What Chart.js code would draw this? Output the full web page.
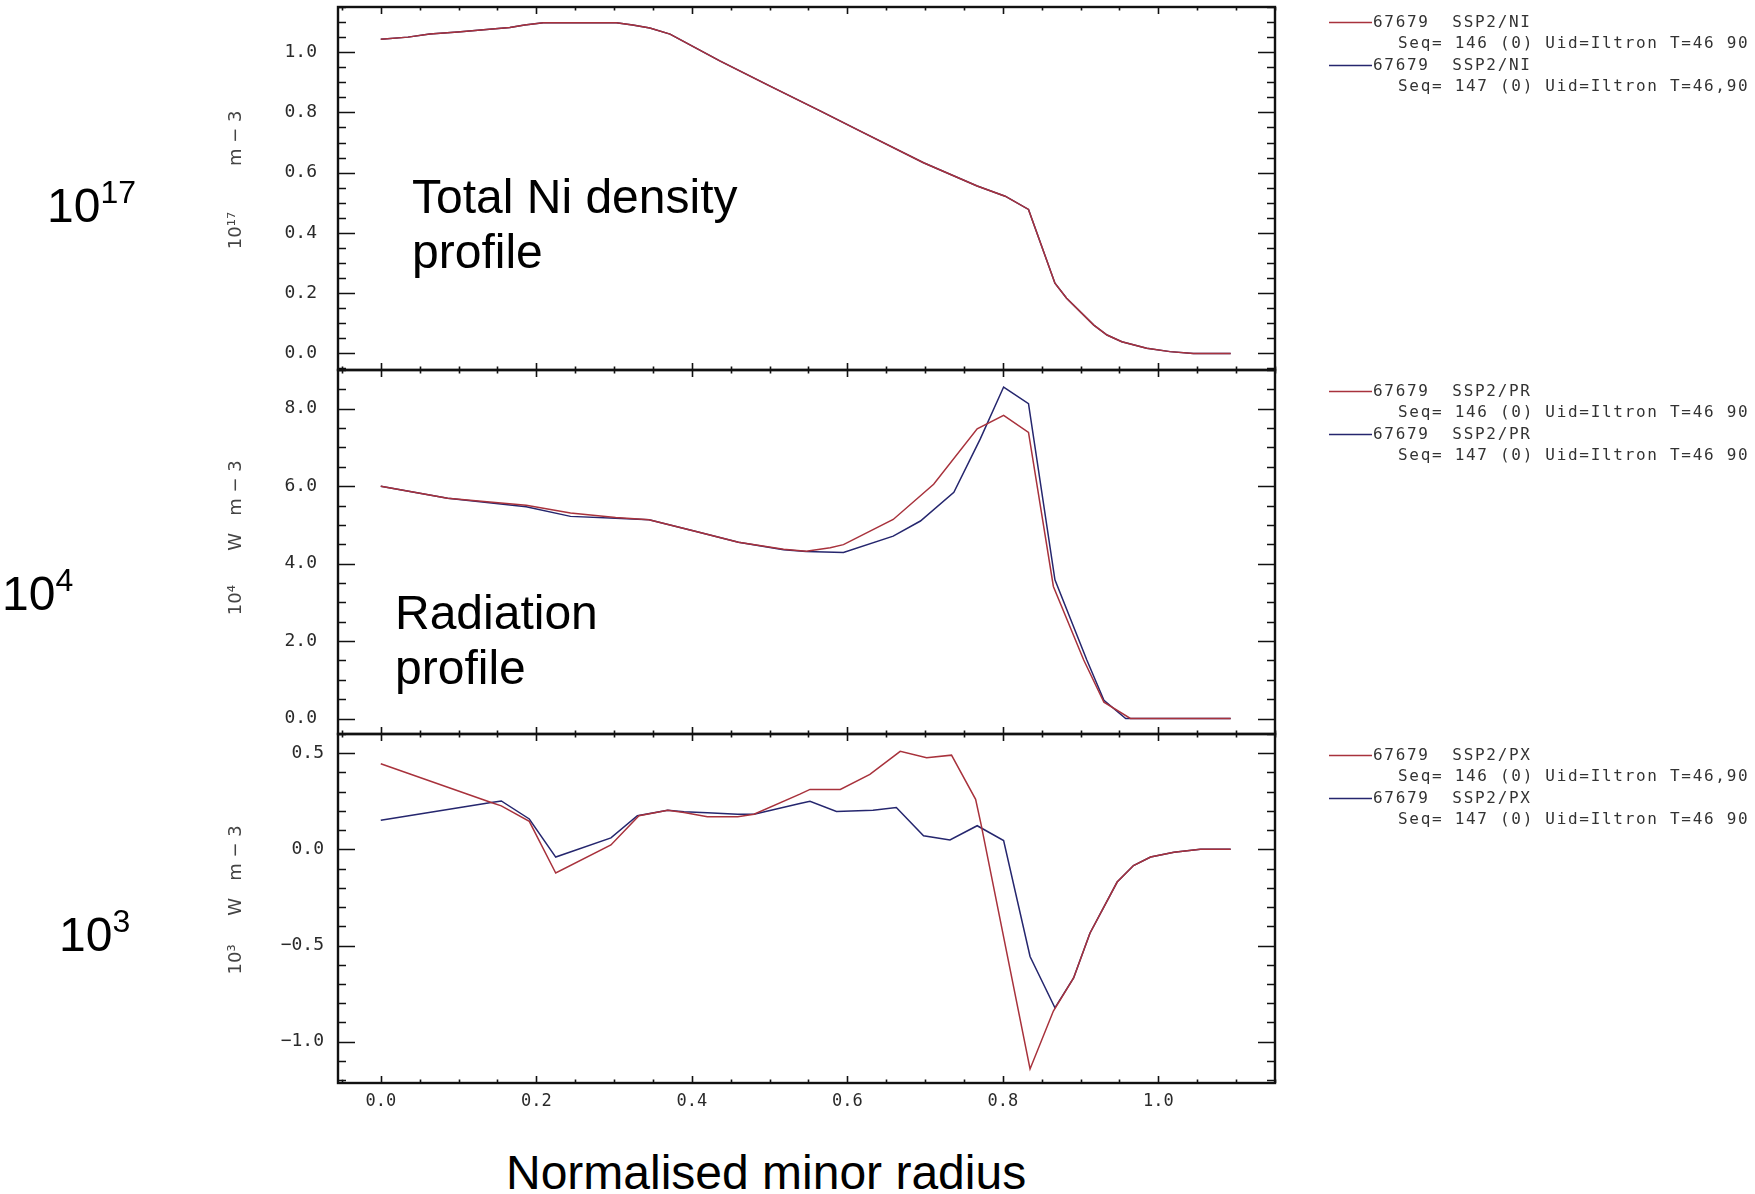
<!DOCTYPE html>
<html>
<head>
<meta charset="utf-8">
<script src="https://cdn.jsdelivr.net/npm/chart.js@4.4.1/dist/chart.umd.min.js"></script>
<style>
  body { margin: 0; background: #fff; width: 1755px; height: 1194px; position: relative; overflow: hidden; font-family: "Liberation Sans", Arial, sans-serif; }
  canvas { position: absolute; left: 0; }
  .big { position: absolute; font-size: 48px; line-height: 55px; color: #000; white-space: nowrap; }
  .big span { font-size: 32px; vertical-align: 19px; }
</style>
</head>
<body>

<!-- plot areas: 7-370, 370-734, 734-1083 ; 40px spare above/below each -->
<canvas id="grafNi" width="1755" height="443" style="top:-33px"></canvas>
<canvas id="grafPr" width="1755" height="444" style="top:330px"></canvas>
<canvas id="grafPx" width="1755" height="439" style="top:694px"></canvas>

<div class="big" style="left:47px; top:165px">10<span>17</span></div>
<div class="big" style="left:2px; top:553px">10<span>4</span></div>
<div class="big" style="left:59px; top:894px">10<span>3</span></div>
<div class="big" style="left:412px; top:169px">Total Ni density<br>profile</div>
<div class="big" style="left:395px; top:585px">Radiation<br>profile</div>
<div class="big" style="left:506px; top:1145px">Normalised minor radius</div>

<script>
// ---- values ----
// top panel: total Ni density (both shots on top of each other)
const xNi = [0, 0.035, 0.063, 0.099, 0.136, 0.166, 0.185, 0.209, 0.303, 0.324, 0.346, 0.372, 0.436, 0.50, 0.565, 0.616, 0.698, 0.767, 0.803, 0.833, 0.867, 0.882, 0.917, 0.934, 0.953, 0.985, 1.015, 1.045, 1.093];
const yNi146 = [1.043, 1.05, 1.06, 1.067, 1.075, 1.082, 1.09, 1.098, 1.098, 1.09, 1.08, 1.06, 0.971, 0.888, 0.805, 0.739, 0.633, 0.556, 0.522, 0.478, 0.233, 0.183, 0.094, 0.061, 0.039, 0.017, 0.006, 0.0, 0.0];
const yNi147 = [1.043, 1.05, 1.06, 1.067, 1.075, 1.082, 1.09, 1.098, 1.098, 1.09, 1.08, 1.06, 0.971, 0.888, 0.805, 0.739, 0.633, 0.556, 0.522, 0.478, 0.233, 0.183, 0.094, 0.061, 0.039, 0.017, 0.006, 0.0, 0.0];

// middle panel: radiation
const xPr146 = [0, 0.086, 0.187, 0.244, 0.302, 0.345, 0.403, 0.46, 0.518, 0.547, 0.578, 0.595, 0.659, 0.711, 0.767, 0.801, 0.833, 0.865, 0.904, 0.93, 0.964, 1.093];
const yPr146 = [6.0, 5.69, 5.51, 5.31, 5.19, 5.13, 4.84, 4.55, 4.37, 4.32, 4.41, 4.49, 5.14, 6.05, 7.48, 7.83, 7.39, 3.41, 1.51, 0.42, 0.0, 0.0];
const xPr147 = [0, 0.086, 0.187, 0.244, 0.302, 0.345, 0.403, 0.46, 0.518, 0.547, 0.595, 0.659, 0.694, 0.737, 0.771, 0.801, 0.833, 0.867, 0.908, 0.93, 0.958, 1.093];
const yPr147 = [6.0, 5.69, 5.47, 5.22, 5.17, 5.13, 4.84, 4.55, 4.36, 4.31, 4.29, 4.71, 5.10, 5.84, 7.22, 8.56, 8.13, 3.58, 1.51, 0.47, 0.0, 0.0];

// bottom panel: PX
const xPx146 = [0, 0.142, 0.155, 0.191, 0.225, 0.296, 0.332, 0.369, 0.39, 0.42, 0.459, 0.48, 0.539, 0.552, 0.591, 0.629, 0.668, 0.702, 0.734, 0.765, 0.772, 0.835, 0.865, 0.891, 0.912, 0.947, 0.968, 0.99, 1.02, 1.054, 1.093];
const yPx146 = [0.445, 0.244, 0.226, 0.146, -0.123, 0.023, 0.175, 0.204, 0.192, 0.17, 0.17, 0.183, 0.287, 0.312, 0.312, 0.39, 0.51, 0.476, 0.49, 0.26, 0.13, -1.142, -0.841, -0.669, -0.436, -0.17, -0.084, -0.04, -0.015, 0.0, 0.0];
const xPx147 = [0, 0.142, 0.155, 0.191, 0.225, 0.296, 0.330, 0.369, 0.39, 0.42, 0.459, 0.48, 0.539, 0.552, 0.586, 0.633, 0.663, 0.698, 0.732, 0.767, 0.801, 0.835, 0.867, 0.891, 0.912, 0.947, 0.968, 0.99, 1.02, 1.054, 1.093];
const yPx147 = [0.152, 0.244, 0.252, 0.158, -0.04, 0.06, 0.175, 0.204, 0.196, 0.19, 0.183, 0.183, 0.239, 0.25, 0.197, 0.204, 0.218, 0.071, 0.049, 0.123, 0.046, -0.557, -0.824, -0.669, -0.436, -0.17, -0.084, -0.04, -0.015, 0.0, 0.0];

// tick labels
const xTicks = [0, 0.2, 0.4, 0.6, 0.8, 1.0];
const yTicksNi = [0, 0.2, 0.4, 0.6, 0.8, 1.0];
const yTicksPr = [0, 2, 4, 6, 8];
const yTicksPx = [-1.0, -0.5, 0, 0.5];

// legend texts
const legNames = {
  Ni: ["67679  SSP2/NI", "67679  SSP2/NI"],
  Pr: ["67679  SSP2/PR", "67679  SSP2/PR"],
  Px: ["67679  SSP2/PX", "67679  SSP2/PX"]
};
const legSub = {
  Ni: ["Seq= 146 (0) Uid=Iltron T=46 90", "Seq= 147 (0) Uid=Iltron T=46,90"],
  Pr: ["Seq= 146 (0) Uid=Iltron T=46 90", "Seq= 147 (0) Uid=Iltron T=46 90"],
  Px: ["Seq= 146 (0) Uid=Iltron T=46,90", "Seq= 147 (0) Uid=Iltron T=46 90"]
};

const RED = "#a8323c";
const BLUE = "#25266e";
const PAD_LEFT = 226;    // canvas x where the y axis box starts
const PLOT_LEFT = 338;   // frame left
const PLOT_RIGHT = 1275; // frame right
const PAD_V = 40;

function pts(xs, ys) {
  return xs.map((v, i) => ({ x: v, y: ys[i] }));
}

function fmt(v) {
  return v.toFixed(1).replace("-", "\u2212");
}

// IDL style box with inward ticks on all 4 sides
const framePlugin = {
  id: "idlFrame",
  afterDatasetsDraw(chart, args, o) {
    const ctx = chart.ctx;
    const a = chart.chartArea;
    const x = chart.scales.x, y = chart.scales.y;
    ctx.save();
    ctx.strokeStyle = "#111";
    ctx.lineWidth = 1.6;
    ctx.beginPath();
    // y ticks
    const yk0 = Math.ceil(y.min / o.yMinor - 1e-6), yk1 = Math.floor(y.max / o.yMinor + 1e-6);
    for (let k = yk0; k <= yk1; k++) {
      const v = k * o.yMinor;
      const major = o.yMajor.some(m => Math.abs(m - v) < 1e-6);
      const len = major ? 17 : 8;
      const p = Math.round(y.getPixelForValue(v)) + 0.5;
      ctx.moveTo(a.left, p); ctx.lineTo(a.left + len, p);
      ctx.moveTo(a.right, p); ctx.lineTo(a.right - len, p);
    }
    // x ticks
    const xk0 = Math.ceil(x.min / 0.05 - 1e-6), xk1 = Math.floor(x.max / 0.05 + 1e-6);
    for (let k = xk0; k <= xk1; k++) {
      const v = k * 0.05;
      const major = xTicks.some(m => Math.abs(m - v) < 1e-6);
      const len = major ? 7 : 3.5;
      const p = Math.round(x.getPixelForValue(v)) + 0.5;
      ctx.moveTo(p, a.top); ctx.lineTo(p, a.top + len);
      ctx.moveTo(p, a.bottom); ctx.lineTo(p, a.bottom - len);
    }
    ctx.stroke();
    ctx.lineWidth = 2.4;
    ctx.strokeRect(a.left, a.top, a.right - a.left, a.bottom - a.top);
    ctx.restore();
  }
};

// legend on the right, two lines per dataset
const legendPlugin = {
  id: "idlLegend",
  afterDraw(chart, args, o) {
    const ctx = chart.ctx;
    const top = chart.chartArea.top;
    const step = 21.3;
    ctx.save();
    ctx.font = '16px "DejaVu Sans Mono"';
    ctx.letterSpacing = "1.7px";
    ctx.fillStyle = "#333";
    ctx.textBaseline = "middle";
    chart.data.datasets.forEach((ds, i) => {
      const yy = Math.round(top + o.y0 + i * 2 * step) + 0.5;
      ctx.strokeStyle = ds.borderColor;
      ctx.lineWidth = 1.5;
      ctx.beginPath();
      ctx.moveTo(1329, yy); ctx.lineTo(1372, yy);
      ctx.stroke();
      ctx.fillText(o.names[i], 1373, yy);
      ctx.fillText(o.subs[i], 1398, Math.round(yy + step));
    });
    ctx.restore();
  }
};

function makeChart(id, key, sets, yMin, yMax, yMajor, yMinor, yTitle, labPad, legY, showX) {
  const cfg = {
    type: "line",
    data: {
      datasets: sets.map((s, i) => ({
        label: legNames[key][i],
        data: s.data,
        borderColor: s.color,
        borderWidth: 1.5,
        pointRadius: 0,
        tension: 0,
        fill: false
      }))
    },
    options: {
      responsive: false,
      animation: false,
      layout: { padding: { left: PAD_LEFT, right: 1755 - PLOT_RIGHT, top: PAD_V, bottom: showX ? 20 : PAD_V } },
      plugins: {
        legend: { display: false },
        tooltip: { enabled: false },
        idlFrame: { yMajor: yMajor, yMinor: yMinor },
        idlLegend: { names: legNames[key], subs: legSub[key], y0: legY }
      },
      scales: {
        x: {
          type: "linear",
          min: -0.055,
          max: 1.15,
          display: showX,
          grid: { display: false, drawTicks: false },
          border: { display: false },
          afterBuildTicks: s => { s.ticks = xTicks.map(v => ({ value: v })); },
          afterFit: s => { s.height = showX ? 30 : 0; },
          ticks: {
            font: { family: "DejaVu Sans Mono", size: 17 },
            color: "#2a2a2a",
            padding: 8,
            maxRotation: 0,
            callback: v => fmt(v)
          }
        },
        y: {
          type: "linear",
          min: yMin,
          max: yMax,
          grid: { display: false, drawTicks: false },
          border: { display: false },
          afterBuildTicks: s => { s.ticks = yMajor.map(v => ({ value: v })); },
          afterFit: s => { s.width = PLOT_LEFT - PAD_LEFT; },
          ticks: {
            font: { family: "DejaVu Sans Mono", size: 18 },
            color: "#2a2a2a",
            padding: labPad,
            callback: v => fmt(v)
          },
          title: {
            display: true,
            text: yTitle,
            color: "#444",
            padding: 0,
            font: { family: "DejaVu Sans", size: 18 }
          }
        }
      }
    },
    plugins: [framePlugin, legendPlugin]
  };
  return new Chart(document.getElementById(id), cfg);
}

var chartNi = makeChart("grafNi", "Ni",
  [{ data: pts(xNi, yNi146), color: RED }, { data: pts(xNi, yNi147), color: BLUE }],
  -0.055, 1.15, yTicksNi, 0.05, "   10\u00B9\u2077        m \u2212 3", 21, 15, false);

var chartPr = makeChart("grafPr", "Pr",
  [{ data: pts(xPr146, yPr146), color: RED }, { data: pts(xPr147, yPr147), color: BLUE }],
  -0.4, 9.0, yTicksPr, 0.5, "     10\u2074      W   m \u2212 3", 21, 21, false);

var chartPx = makeChart("grafPx", "Px",
  [{ data: pts(xPx146, yPx146), color: RED }, { data: pts(xPx147, yPx147), color: BLUE }],
  -1.215, 0.6, yTicksPx, 0.1, "   10\u00B3     W   m \u2212 3", 14, 21, true);
</script>
</body>
</html>
